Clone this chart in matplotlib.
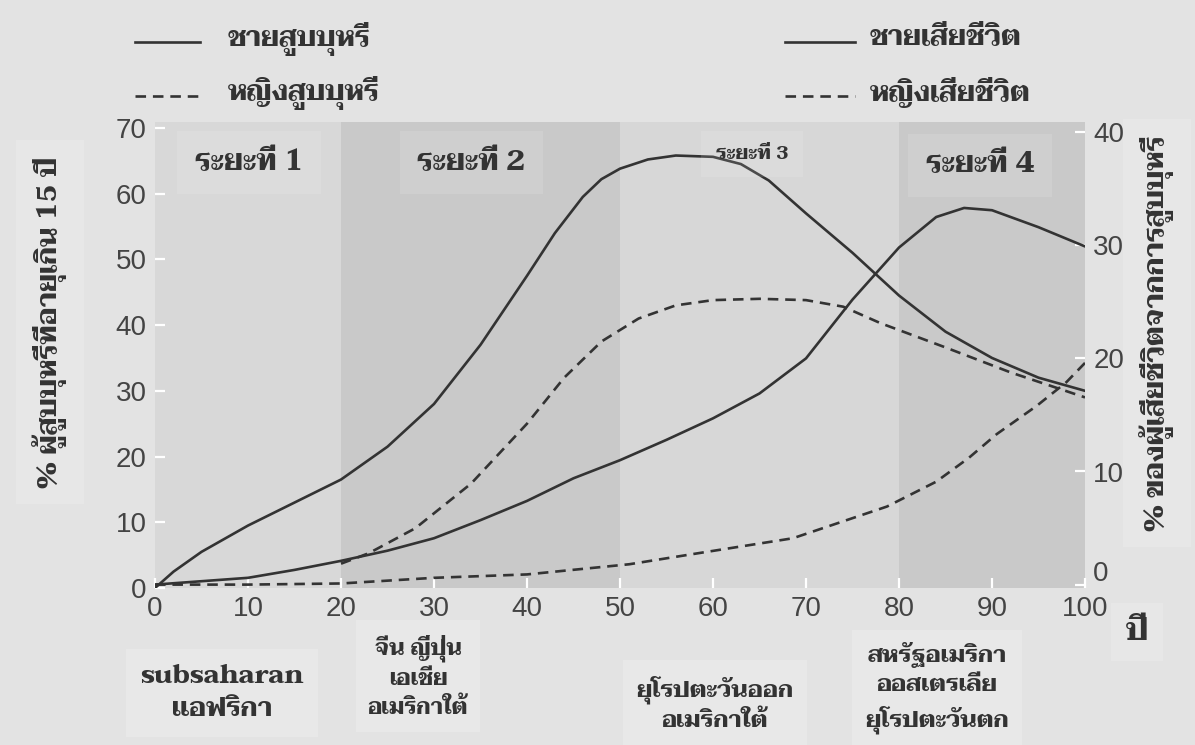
import numpy as np
import matplotlib
matplotlib.use('Agg')
import matplotlib.pyplot as plt
import matplotlib.transforms as mtransforms

# --- data ---
ms_x = [0, 2, 5, 10, 15, 20, 25, 30, 35, 40, 43, 46, 48, 50, 53, 56, 60, 63, 66, 70, 75, 80, 85, 90, 95, 100]
men_smoke = [0, 2.5, 5.5, 9.5, 13, 16.5, 21.5, 28, 37, 47.5, 54, 59.5, 62.2, 63.8, 65.2, 65.8, 65.6, 64.5, 62,
             57, 51, 44.5, 39, 35, 32, 30]
ws_x = [20, 23, 28, 34, 40, 44, 48, 52, 56, 60, 65, 70, 74, 78, 85, 92, 100]
women_smoke = [3.7, 5.3, 9.1, 15.9, 25, 32, 37.5, 41, 43, 43.8, 44, 43.8, 42.8, 40.3, 36.6, 32.8, 29]
md_x = [0, 5, 10, 15, 20, 25, 30, 35, 40, 45, 50, 55, 60, 65, 70, 75, 80, 84, 87, 90, 95, 100]
men_death = [0, 0.3, 0.6, 1.3, 2.1, 3.0, 4.1, 5.7, 7.4, 9.4, 11.0, 12.8, 14.7, 16.9, 20.0, 25.2, 29.8,
             32.5, 33.3, 33.1, 31.6, 29.9]
wd_x = [0, 10, 20, 30, 40, 51, 58.6, 68.6, 78.7, 84, 87.5, 90.5, 94.8, 98, 100]
women_death = [0, 0, 0.1, 0.6, 0.9, 1.8, 2.8, 4.1, 6.9, 9.1, 11.2, 13.3, 15.8, 17.9, 19.6]

phases = [(0, 20), (20, 50), (50, 80), (80, 100)]
phase_labels = ['ระยะที่ 1', 'ระยะที่ 2', 'ระยะที่ 3', 'ระยะที่ 4']
regions = ['subsaharan\nแอฟริกา', 'จีน ญี่ปุ่น\nเอเชีย\nอเมริกาใต้',
           'ยุโรปตะวันออก\nอเมริกาใต้', 'สหรัฐอเมริกา\nออสเตรเลีย\nยุโรปตะวันตก']
legend_labels = ['ชายสูบบุหรี่', 'หญิงสูบบุหรี่', 'ชายเสียชีวิต', 'หญิงเสียชีวิต']

plt.rcParams['font.family'] = ['Taviraj', 'DejaVu Sans']

bg = '#e3e3e3'
ink = '#333333'
dash = (0, (4, 2.6))
W, H = 1195, 745

fig = plt.figure(figsize=(11.95, 7.45), dpi=100, facecolor=bg)
ax = fig.add_axes([155 / W, 1 - 588 / H, 930 / W, 466 / H])
ax.set_facecolor(bg)
ax2 = ax.twinx()

shade = ['#d8d8d8', '#c9c9c9', '#d7d7d7', '#c9c9c9']
for (a, b), c in zip(phases, shade):
    ax.axvspan(a, b, color=c, zorder=0, lw=0)

ax.plot(ms_x, men_smoke, color=ink, lw=1.9, solid_capstyle='round')
ax.plot(ws_x, women_smoke, color=ink, lw=1.9, ls=dash)
ax2.plot(md_x, men_death, color=ink, lw=1.9, solid_capstyle='round')
ax2.plot(wd_x, women_death, color=ink, lw=1.9, ls=dash)

ax.set_xlim(0, 100)
ax.set_ylim(0, 70.9)
ax2.set_ylim(-0.3, 40.9)
ax.set_xticks(range(0, 101, 10))
ax.set_yticks(range(0, 71, 10))
ax2.set_yticks(range(0, 41, 10))
for s in list(ax.spines.values()) + list(ax2.spines.values()):
    s.set_visible(False)
numfont = {'family': ['Liberation Sans Narrow', 'Liberation Sans', 'DejaVu Sans'], 'size': 20}
ax.tick_params(axis='both', direction='in', color='white', width=1.6, length=7,
               labelcolor='#444444', pad=6)
ax2.tick_params(axis='y', direction='in', color='white', width=1.6, length=7,
                labelcolor='#444444', pad=6)
for lab in ax.get_xticklabels() + ax.get_yticklabels() + ax2.get_yticklabels():
    lab.set_fontproperties(numfont)
# the right-hand "0" sits a little higher, clear of "100"
r0 = ax2.get_yticklabels()[0]
r0.set_transform(r0.get_transform() + mtransforms.ScaledTranslation(0, 14 / 100, fig.dpi_scale_trans))

# phase labels
phase_pos = [(10.1, 64.7), (34.0, 64.7), (64.2, 66.0), (88.7, 64.3)]
phase_size = [21, 21, 14, 21]
phase_pad = [0.6, 0.6, 0.75, 0.6]
for (px, py), t, s, p in zip(phase_pos, phase_labels, phase_size, phase_pad):
    ax.text(px, py, t, ha='center', va='center', fontsize=s, fontweight='bold',
            color=ink, bbox=dict(boxstyle='square,pad=%s' % p, fc=(1, 1, 1, 0.12), ec='none'))

# legend
lx = [(135, 200), (135, 200), (785, 855), (785, 855)]
ly = [42, 96, 42, 96]
lstyle = ['-', dash, '-', dash]
tx = [228, 228, 870, 870]
for (x0, x1), y, st, x, t in zip(lx, ly, lstyle, tx, legend_labels):
    fig.add_artist(plt.Line2D([x0 / W, x1 / W], [1 - y / H] * 2, color=ink, lw=1.9, ls=st,
                              transform=fig.transFigure))
    fig.text(x / W, 1 - (y - 3) / H, t, ha='left', va='center', fontsize=20,
             fontweight='bold', color=ink)

# axis labels
lab_box = dict(boxstyle='square,pad=0.6', fc='#e7e7e7', ec='none')
fig.text(50 / W, 1 - 322 / H, '% ผู้สูบบุหรี่ที่อายุเกิน 15 ปี', rotation=90,
         ha='center', va='center', fontsize=20, fontweight='bold', color=ink, bbox=lab_box)
fig.text(1157 / W, 1 - 333 / H, '% ของผู้เสียชีวิตจากการสูบบุหรี่', rotation=90,
         ha='center', va='center', fontsize=20, fontweight='bold', color=ink, bbox=lab_box)
fig.text(1137 / W, 1 - 632 / H, 'ปี', ha='center', va='center', fontsize=23,
         fontweight='bold', color=ink, bbox=dict(boxstyle='square,pad=0.45', fc='#e7e7e7', ec='none'))

# region labels
reg_pos = [(222, 693), (418, 677), (715, 704), (937, 688)]
reg_size = [19, 16, 17, 17]
for (x, y), t, s in zip(reg_pos, regions, reg_size):
    fig.text(x / W, 1 - y / H, t, ha='center', va='center', fontsize=s,
             fontweight='bold', color=ink, linespacing=1.45,
             bbox=dict(boxstyle='square,pad=0.55', fc='#e8e8e8', ec='none'))

fig.savefig('out.png', dpi=100, facecolor=bg)
